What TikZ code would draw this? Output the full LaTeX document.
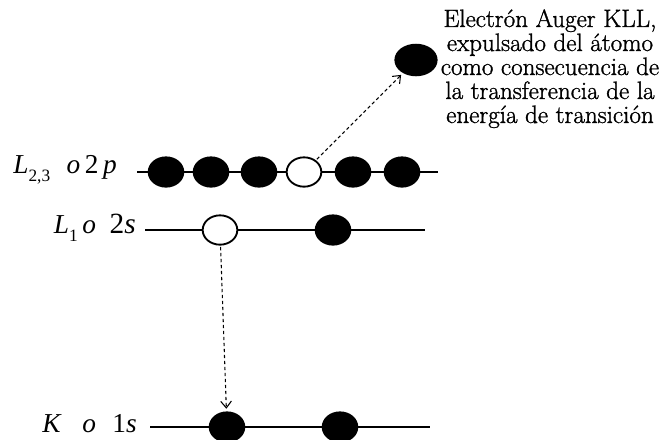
\documentclass[tikz,border=0pt]{standalone}
\usepackage{fontspec}
\newfontfamily\notefont[FakeBold=1.2]{Latin Modern Roman}
\newfontfamily\lblfont{Liberation Serif}
\newcommand\lowsub[1]{\raisebox{-0.3em}{\fontsize{13}{13}\selectfont #1}}
\usetikzlibrary{shapes.geometric, arrows.meta, positioning, calc}

\begin{document}
\begin{tikzpicture}[x=0.75pt, y=-0.75pt]

\tikzset{
  level/.style={draw=black, line width=2pt},
  electron/.style={ellipse, draw=black, fill=black, line width=1.4pt,
    minimum width=26pt, minimum height=22pt, inner sep=0pt},
  hole/.style={electron, fill=white},
  lvllabel/.style={font=\lblfont\fontsize{20.5}{22}\selectfont,
    inner sep=0pt, anchor=base east},
  transition/.style={-{Straight Barb[length=5pt, width=8pt]},
    dash pattern=on 2.5pt off 2pt, line width=0.8pt,
    shorten >=2pt, shorten <=1pt},
  note/.style={font=\notefont\fontsize{18.8}{18}\selectfont, align=center,
    inner sep=0pt, anchor=north}
}

\useasboundingbox (0,0) rectangle (662,440);

\node[lvllabel] (lab2p) at (117,173)
  {\textit{L}\lowsub{2,3}\hspace{0.6em}\textit{o}\,2\,\textit{p}};
\node[lvllabel] (lab2s) at (136,233)
  {\textit{L}\lowsub{1}\,\textit{o}\hspace{0.5em}{\fontsize{22}{22}\selectfont 2\textit{s}}};
\node[lvllabel] (lab1s) at (137,432)
  {\textit{K}\hspace{0.75em}\textit{o}\hspace{0.6em}1\textit{s}};

\coordinate (start2p) at (137,172);
\coordinate (end2p)   at (438,172);
\coordinate (start2s) at (145,230);
\coordinate (end2s)   at (425,230);
\coordinate (start1s) at (150,427);
\coordinate (end1s)   at (430,427);

\draw[level] (start2p) -- (end2p);
\draw[level] (start2s) -- (end2s);
\draw[level] (start1s) -- (end1s);

\node[electron] (p1) at (166,172) {};
\node[electron] (p2) at (211,172) {};
\node[electron] (p3) at (259,172) {};
\node[hole]     (p4) at (304,172) {};
\node[electron] (p5) at (353,172) {};
\node[electron] (p6) at (402,172) {};

\node[hole]     (s1) at (220,230) {};
\node[electron] (s2) at (333,230) {};

\node[electron] (k1) at (227,427) {};
\node[electron] (k2) at (340,427) {};

\node[electron, minimum width=31pt, minimum height=23pt] (auger)
  at (416,60) {};

\node[note] (augernote) at (550,9)
  {Electrón Auger KLL,\\expulsado del átomo\\como consecuencia de\\
   la transferencia de la\\energía de transición};

\draw[transition] (p4) -- (auger);
\draw[transition] (s1) -- (k1);

\end{tikzpicture}
\end{document}
